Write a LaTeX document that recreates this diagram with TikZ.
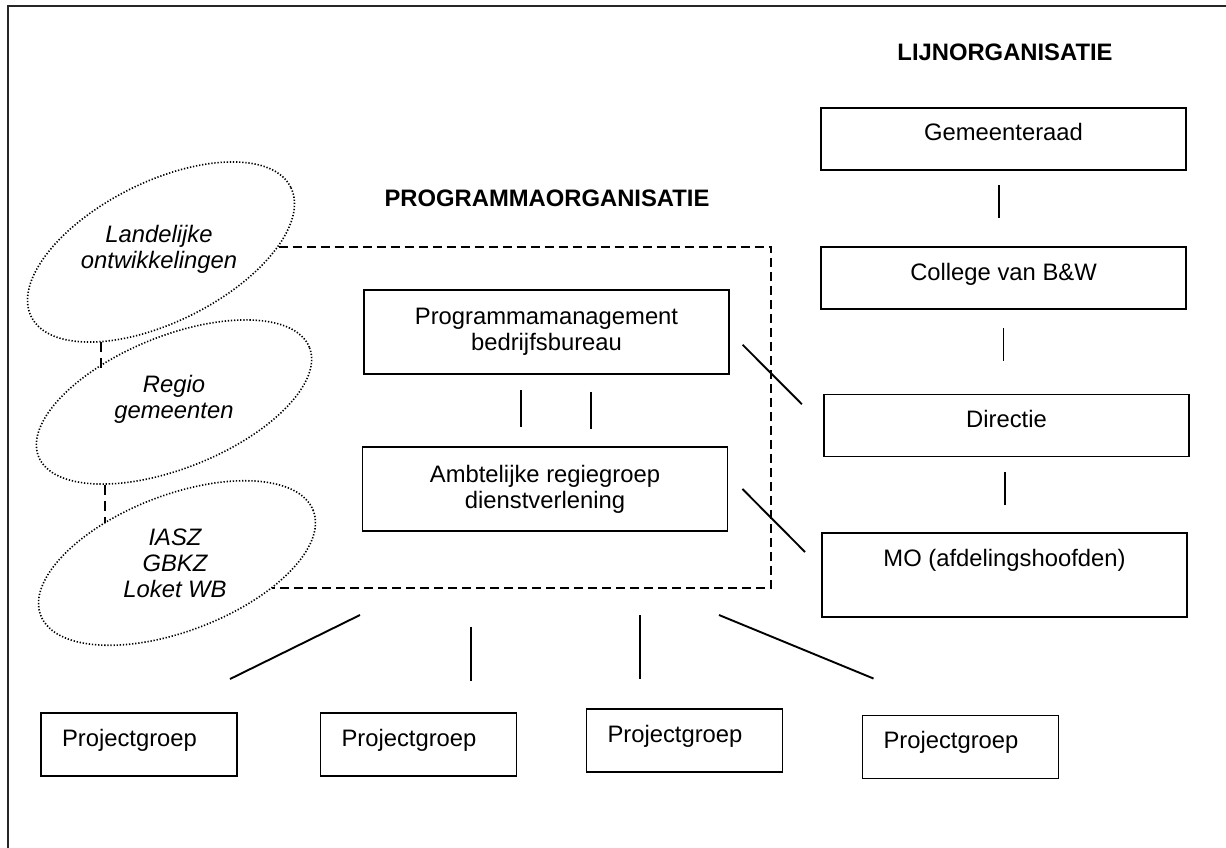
\documentclass[tikz,border=0pt]{standalone}
\usepackage{fontspec}
\setmainfont{Liberation Sans}
\usetikzlibrary{shapes.geometric,positioning}

\begin{document}
\begin{tikzpicture}[x=1pt, y=-1pt,
    font=\fontsize{23.8}{26}\selectfont,
    box/.style={rectangle, draw, line width=1.9pt, minimum width=365pt, inner sep=0pt},
    lijnbox/.style={box, text height=33pt, text depth=29pt},
    progbox/.style={box, minimum height=84pt, align=center},
    pgbox/.style={rectangle, draw, line width=1.9pt, text width=154pt, inner xsep=21pt, inner ysep=0pt, text height=33pt, text depth=30pt, align=left},
    blob/.style={ellipse, draw, line width=1.6pt, dash pattern=on 1.3pt off 1.8pt, inner sep=0pt},
    blobtext/.style={align=center, font=\fontsize{23.8}{26}\selectfont\itshape},
    title/.style={font=\fontsize{23.8}{26}\selectfont\bfseries},
    link/.style={line width=1.9pt},
    progdash/.style={line width=2pt, dash pattern=on 9pt off 5pt},
    blobdash/.style={line width=2pt, dash pattern=on 10pt off 6pt}]

    \useasboundingbox (0,0) rectangle (1226,848);
    \draw[line width=1.9pt, black!85] (8,848) -- (8,6) -- (1226,6);

    \node[title] (lijntitle) at (1005,52) {LIJNORGANISATIE};
    \node[title] (progtitle) at (547,198) {PROGRAMMAORGANISATIE};

    \node[lijnbox] (gemeente) at (1003.5,139) {Gemeenteraad};
    \node[lijnbox] (college) at (1003.5,278) {College van B\&W};
    \node[lijnbox] (directie) at (1006.5,425.5) {Directie};
    \node[lijnbox, text depth=51pt] (mo) at (1004.5,575) {MO (afdelingshoofden)};

    \node[progbox] (progman) at (546.5,332) {Programmamanagement\\bedrijfsbureau};
    \node[progbox] (regiegroep) at (545,489) {Ambtelijke regiegroep\\dienstverlening};

    \node[blob, rotate=26.5, minimum width=290pt, minimum height=140pt] (landelijk) at (161,252) {};
    \node[blobtext] (landelijktxt) at (159,249.5) {Landelijke\\ontwikkelingen};
    \node[blob, rotate=22, minimum width=292pt, minimum height=132pt] (regio) at (174,402) {};
    \node[blobtext] (regiotxt) at (174,399.5) {Regio\\gemeenten};
    \node[blob, rotate=21, minimum width=292pt, minimum height=136pt] (iasz) at (177,563) {};
    \node[blobtext] (iasztxt) at (175,563) {IASZ\\GBKZ\\Loket WB};

    \node[pgbox] (pg1) at (139,744.5) {Projectgroep};
    \node[pgbox] (pg2) at (418.5,744.5) {Projectgroep};
    \node[pgbox] (pg3) at (684.5,740.5) {Projectgroep};
    \node[pgbox] (pg4) at (960.5,747) {Projectgroep};

    \coordinate (pse) at (771,588);
    \coordinate (f1) at (360,615);
    \coordinate (f2) at (471,627);
    \coordinate (f3) at (640,615);
    \coordinate (f4) at (719,615);

    \draw[progdash] (landelijk.336) -- (landelijk.336 -| pse) -- (pse |- iasz.324) -- (iasz.324);
    \draw[blobdash] (landelijk.210) -- (landelijk.210 |- regio.139);
    \draw[blobdash] (regio.208) -- (regio.208 |- iasz.131);

    \draw[link, shorten <=14pt, shorten >=28pt] ([xshift=-4.5pt]gemeente.south) -- ([xshift=-4.5pt]college.north);
    \draw[link, shorten <=18pt, shorten >=33pt] (college.south) -- (college.south |- directie.north);
    \draw[link, shorten <=15pt, shorten >=27pt] ([xshift=-1.5pt]directie.south) -- ([xshift=-1.5pt]directie.south |- mo.north);

    \draw[link, shorten <=15pt, shorten >=19pt] ([xshift=-25.5pt]progman.south) -- ([xshift=-25.5pt]progman.south |- regiegroep.north);
    \draw[link, shorten <=17pt, shorten >=17pt] ([xshift=44.5pt]progman.south) -- ([xshift=44.5pt]progman.south |- regiegroep.north);

    \draw[link, shorten <=18pt, shorten >=30pt] (progman.east) -- (directie.west);
    \draw[link] ([xshift=14pt]regiegroep.east) -- ([xshift=-16pt,yshift=23pt]mo.west);

    \draw[link] (f1) -- ([xshift=-8pt,yshift=33pt]pg1.north east);
    \draw[link] (f2) -- ([yshift=31pt]f2 |- pg2.north);
    \draw[link] (f3) -- ([yshift=29pt]f3 |- pg3.north);
    \draw[link] (f4) -- ([xshift=12pt,yshift=36pt]pg4.north west);
\end{tikzpicture}
\end{document}
